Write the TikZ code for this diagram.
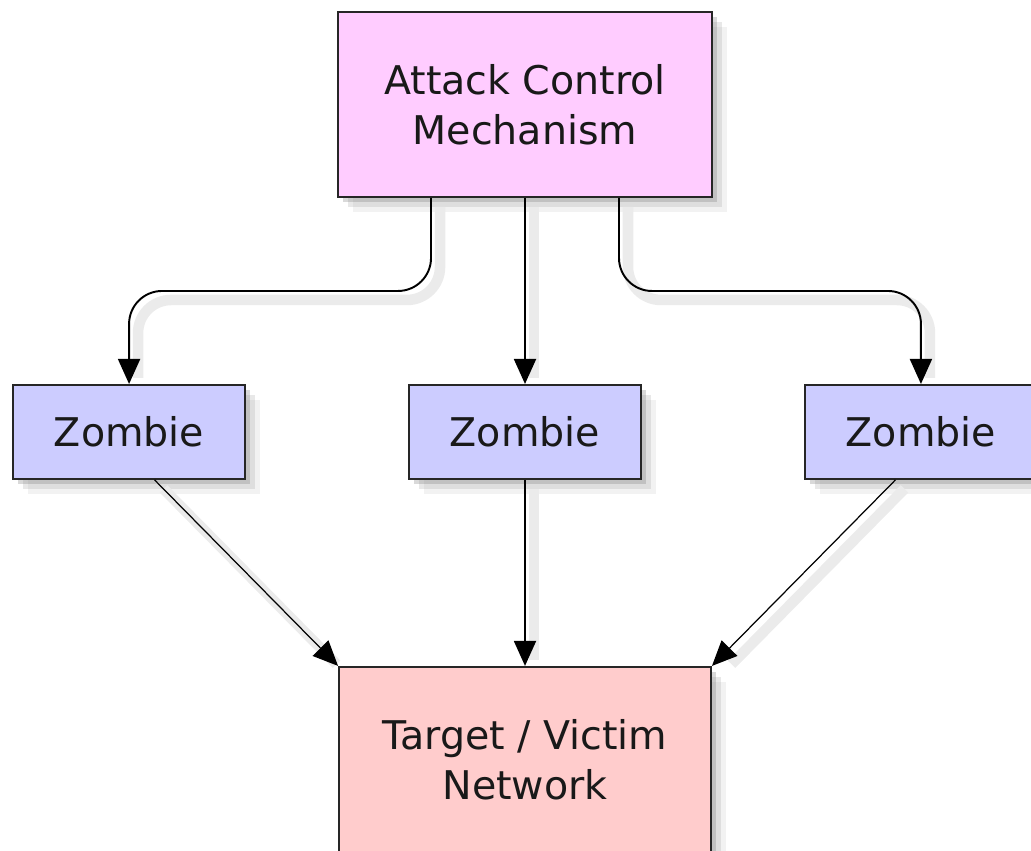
\documentclass[tikz,border=0pt]{standalone}
\usepackage{fontspec}
\setsansfont{DejaVu Sans}
\usepackage{xcolor}
\usetikzlibrary{arrows.meta,positioning,calc,shadows}

\definecolor{ctrlpink}{HTML}{FFCCFF}
\definecolor{zombieblue}{HTML}{CCCCFF}
\definecolor{targetred}{HTML}{FFCCCC}

\begin{document}
\begin{tikzpicture}[
    node distance = 3.72cm,
    box/.style = {
        rectangle,
        draw=black!85,
        line width=1.1pt,
        inner sep=0pt,
        align=center,
        text=black!90,
        font=\sffamily\fontsize{22.5}{28.5}\selectfont,
        drop shadow={shadow xshift=0.3cm, shadow yshift=-0.3cm, opacity=0.1},
        drop shadow={shadow xshift=0.2cm, shadow yshift=-0.2cm, opacity=0.18},
        drop shadow={shadow xshift=0.1cm, shadow yshift=-0.1cm, opacity=0.3}
    },
    ctrl_block/.style = {
        box,
        fill=ctrlpink,
        minimum width=7.48cm,
        minimum height=3.7cm
    },
    zombie_block/.style = {
        box,
        fill=zombieblue,
        minimum width=4.64cm,
        minimum height=1.88cm
    },
    target_block/.style = {
        box,
        fill=targetred,
        minimum width=7.44cm,
        minimum height=3.7cm
    },
    arrow/.style = {
        -{Triangle[length=0.5cm, width=0.44cm]},
        line width=1.1pt,
        draw=black,
        preaction={-, draw=black!8, line width=6pt, shorten >=0.3cm,
            transform canvas={shift={(0.18cm,-0.18cm)}}}
    },
    thin_arrow/.style = {
        arrow,
        line width=0.7pt
    }
]

    \useasboundingbox (0,0) rectangle (20.62,-17);

    % Node Definitions
    \node [ctrl_block] (control) at (10.5,-2.09) {Attack Control\\Mechanism};

    \node [zombie_block, below=of control] (zombie_mid) {Zombie};

    \node [zombie_block, left=3.24cm of zombie_mid] (zombie_left) {Zombie};

    \node [zombie_block, right=3.24cm of zombie_mid] (zombie_right) {Zombie};

    \node [target_block, below=of zombie_mid] (target) {Target / Victim\\Network};

    % Taps along the bottom of the control box
    \coordinate (tap_left) at ($(control.south west)!0.25!(control.south east)$);
    \coordinate (tap_right) at ($(control.south west)!0.75!(control.south east)$);

    % Arrows connecting nodes
    \draw [arrow, rounded corners=0.66cm] (tap_left) |- ($(tap_left)!0.5!(zombie_left.north)$) -| (zombie_left.north);
    \draw [arrow] (control) -- (zombie_mid);
    \draw [arrow, rounded corners=0.66cm] (tap_right) |- ($(tap_right)!0.5!(zombie_right.north)$) -| (zombie_right.north);

    \draw [thin_arrow] (zombie_left.-62) -- (target.north west);
    \draw [arrow] (zombie_mid) -- (target);
    \draw [thin_arrow] (zombie_right.-118) -- (target.north east);

\end{tikzpicture}
\end{document}
